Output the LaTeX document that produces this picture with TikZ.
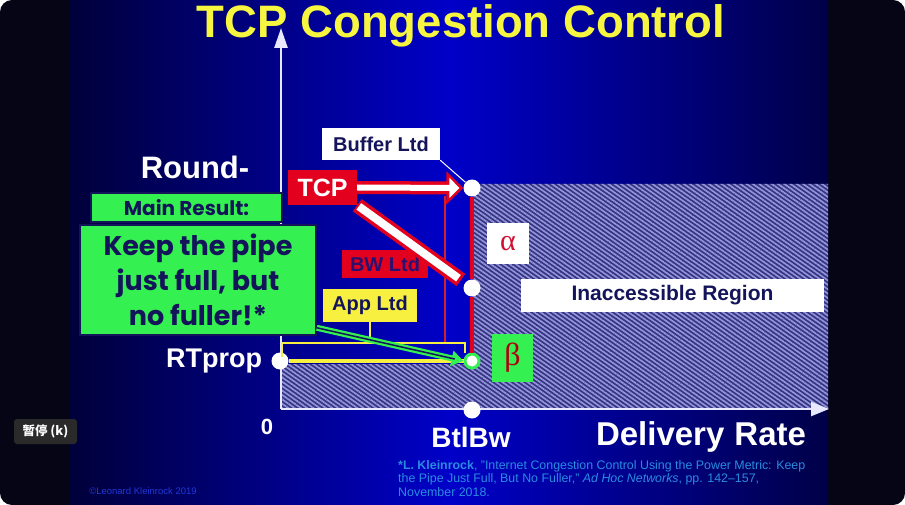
\documentclass[tikz,border=0pt]{standalone}
\usepackage{fontspec}
\setmainfont{Liberation Sans}
\newfontfamily\comicfont{Poppins}
\newfontfamily\greekfont{Liberation Serif}
\newfontfamily\cjkfont{Noto Sans CJK SC}
\usetikzlibrary{arrows.meta,patterns.meta}

\definecolor{framedark}{HTML}{050516}
\definecolor{slidedark}{HTML}{00003A}
\definecolor{slideblue}{HTML}{0000C8}
\definecolor{slideright}{HTML}{000048}
\definecolor{titleyellow}{HTML}{F6F640}
\definecolor{boxred}{HTML}{E2001E}
\definecolor{thinred}{HTML}{D81C2C}
\definecolor{bwtext}{HTML}{2A1070}
\definecolor{boxgreen}{HTML}{34F050}
\definecolor{alphared}{HTML}{D01030}
\definecolor{betared}{HTML}{B00010}
\definecolor{textnavy}{HTML}{14145A}
\definecolor{hatchback}{HTML}{34347E}
\definecolor{hatchline}{HTML}{9494DE}
\definecolor{appyellow}{HTML}{F8F040}
\definecolor{axiswhite}{HTML}{E8E8FF}
\definecolor{citeblue}{HTML}{2A8CE0}
\definecolor{copyblue}{HTML}{2038D8}
\definecolor{tipgray}{HTML}{2A2A2A}

\tikzset{
  dot/.style={circle, fill=white, minimum size=17pt, inner sep=0pt},
  tagbox/.style={inner sep=0pt, font=\bfseries\fontsize{20}{20}\selectfont},
  axislabel/.style={text=white, inner sep=0pt, font=\bfseries\fontsize{#1}{#1}\selectfont},
  greenbox/.style={fill=boxgreen, draw=textnavy, line width=1.5pt, text=textnavy, inner sep=0pt, align=center}
}

\begin{document}
\begin{tikzpicture}[x=1pt,y=-1pt]
	\useasboundingbox (0,0) rectangle (905,505);
	\fill [white] (0,0) rectangle (905,505);
	\fill [framedark, rounded corners=12pt] (0,0) rectangle (905,505);
	\shade [left color=slidedark, right color=slideright, middle color=slideblue] (70,0) rectangle (828,505);
	\node [titleyellow, inner sep=0pt, anchor=base, font=\bfseries\fontsize{45.5}{45.5}\selectfont] (title) at (461,38) {TCP Congestion Control};

	\fill [hatchback] (473,184) -- (828,184) -- (828,409) -- (281,409) -- (281,364) -- (473,364) -- cycle;
	\fill [pattern={Lines[angle=-35,distance=3.6pt,line width=1.7pt]}, pattern color=hatchline] (473,184) -- (828,184) -- (828,409) -- (281,409) -- (281,364) -- (473,364) -- cycle;

	\coordinate (origin) at (281,409);
	\coordinate (ytip) at (281,28);
	\coordinate (xtip) at (829,409);
	\draw [axiswhite, line width=2.5pt, -{Triangle[length=20pt,width=13pt]}] (origin) -- (ytip);
	\draw [axiswhite, line width=2.5pt, -{Triangle[length=18pt,width=14pt]}] (origin) -- (xtip);

	\node [dot] (buftop) at (472,188) {};
	\node [dot] (bwpt) at (472,288) {};
	\node [dot] (rtp) at (280,361) {};
	\node [dot, draw=boxgreen, line width=3pt, minimum size=14pt] (opt) at (472,361) {};
	\node [dot] (btl) at (472,410) {};

	\node [tagbox, fill=white, text=textnavy, minimum width=118pt, minimum height=32pt] (buf) at (381,144) {Buffer Ltd};
	\node [tagbox, fill=boxred, text=white, minimum width=69pt, minimum height=35pt, font=\bfseries\fontsize{25}{25}\selectfont] (tcp) at (322.5,187.5) {TCP};
	\node [tagbox, fill=boxred, text=bwtext, minimum width=86pt, minimum height=27pt] (bw) at (385,264) {BW Ltd};
	\node [tagbox, fill=appyellow, text=textnavy, minimum width=94pt, minimum height=33pt] (app) at (370,305) {App Ltd};
	\node [inner sep=0pt, fill=white, text=alphared, minimum width=42pt, minimum height=41pt, font=\greekfont\fontsize{30}{30}\selectfont] (alpha) at (508,243.5) {α};
	\node [inner sep=0pt, fill=boxgreen, text=betared, minimum width=41pt, minimum height=48pt, font=\greekfont\fontsize{32}{32}\selectfont] (beta) at (512.5,358) {β};
	\node [tagbox, fill=white, text=textnavy, minimum width=303pt, minimum height=33pt, font=\bfseries\fontsize{21}{21}\selectfont] (inacc) at (672.5,295.5) {Inaccessible Region};

	\coordinate (thintop) at (445,196);
	\coordinate (thinbot) at (445,343);
	\draw [thinred, line width=1.2pt] (thintop) -- (thinbot);
	\draw [boxred, line width=4pt] (buftop) -- (bwpt) (bwpt) -- (opt);
	\draw [white, line width=1pt] (buf.south east) -- (buftop);
	\draw [boxred, line width=13pt, -{Triangle[length=17pt,width=32pt]}] (tcp.east) -- (buftop.west);
	\draw [white, line width=6pt, shorten >=4pt, -{Triangle[length=10pt,width=20pt]}] (tcp.east) -- (buftop.west);
	\draw [boxred, line width=15pt, shorten >=5pt] (tcp.south east) -- (bwpt);
	\draw [white, line width=8pt, shorten >=8pt, shorten <=2pt] (tcp.south east) -- (bwpt);

	\coordinate (brl) at (282,343);
	\coordinate (brr) at (465,343);
	\draw [appyellow, line width=1.5pt] ([yshift=-14pt]brl) -- (brl) -- (brr) -- ([yshift=-10pt]brr);
	\draw [appyellow, line width=1.5pt] (app.south) -- (app.south |- brl);
	\draw [appyellow, line width=4pt] (rtp) -- (opt);

	\node [greenbox, minimum width=191pt, minimum height=29pt, font=\comicfont\bfseries\fontsize{20}{20}\selectfont] (main) at (186.5,207.5) {Main Result:};
	\node [greenbox, minimum width=236pt, minimum height=110pt, font=\comicfont\bfseries\fontsize{27}{35}\selectfont] (keep) at (198,280) {Keep the pipe\\just full, but\\no fuller!*};
	\draw [boxgreen, line width=6pt, -{Triangle[length=12pt,width=15pt]}] ([yshift=8pt]keep.south east) -- (opt.west);
	\draw [textnavy, line width=1.5pt, shorten >=9pt] ([yshift=8pt]keep.south east) -- (opt.west);

	\node [axislabel=31] (round) at (195,167) {Round-};
	\node [axislabel=27] (rtplabel) at (214,361) {RTprop};
	\node [axislabel=22] (zero) at (267,427) {0};
	\node [axislabel=28] (btllabel) at (471,437) {BtlBw};
	\node [axislabel=33] (rate) at (701,437) {Delivery\hspace{10pt}Rate};

	\node [citeblue, inner sep=0pt, anchor=north west, align=left, font=\fontsize{12.4}{13.5}\selectfont] (cite) at (398,460) {\textbf{*L. Kleinrock}, "Internet Congestion Control Using the Power Metric: Keep\\the Pipe Just Full, But No Fuller," \textit{Ad Hoc Networks}, pp. 142--157,\\November 2018.};
	\node [copyblue, inner sep=0pt, font=\fontsize{9.5}{9.5}\selectfont] (copy) at (143,491) {\textcopyright Leonard Kleinrock 2019};
	\node [fill=tipgray, rounded corners=3pt, text=white, inner sep=0pt, minimum width=63pt, minimum height=25pt, font=\cjkfont\bfseries\fontsize{12.5}{12.5}\selectfont] (tip) at (45.5,431.5) {暂停 (k)};
\end{tikzpicture}
\end{document}
